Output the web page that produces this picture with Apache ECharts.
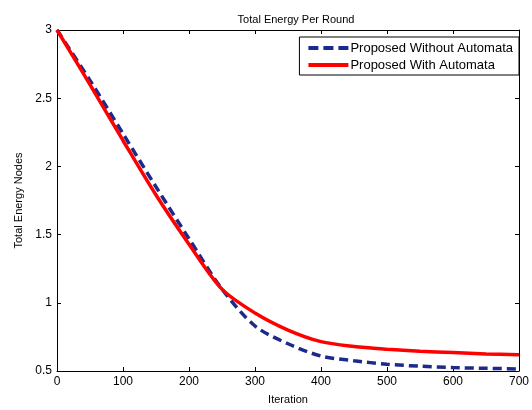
<!DOCTYPE html>
<html>
<head>
<meta charset="utf-8">
<script src="https://cdn.jsdelivr.net/npm/echarts@6/dist/echarts.min.js"></script>
<style>
  html, body { margin: 0; padding: 0; background: #fff; }
  #chart { width: 532px; height: 410px; }
</style>
</head>
<body>
<div id="chart"></div>
<script>
const TITLE = 'Total Energy Per Round'
const X_NAME = 'Iteration'
const Y_NAME = 'Total Energy Nodes'
const WITHOUT_NAME = 'Proposed Without Automata'
const WITH_NAME = 'Proposed With Automata'

const iterations = [0, 50, 100, 150, 200, 250, 300, 350, 400, 450, 500, 550, 600, 650, 700]
const withoutAutomata = [3, 2.63, 2.24, 1.85, 1.47, 1.1, 0.83, 0.7, 0.61, 0.575, 0.55, 0.535, 0.525, 0.52, 0.515]
const withAutomata = [3, 2.6, 2.19, 1.79, 1.43, 1.1, 0.925, 0.8, 0.715, 0.68, 0.66, 0.645, 0.635, 0.625, 0.62]

const FONT = 'Liberation Sans, Arial, sans-serif'
// legend samples: dashed and solid bars, drawn as paths so no symbol shows
const DASH_ICON = 'path://M0,0h10v4h-10z M15,0h10v4h-10z M30,0h10v4h-10z'
const SOLID_ICON = 'path://M0,0h40v4h-40z'

function pairs(values) {
  return iterations.map((x, i) => [x, values[i]])
}

function boxAxis(pos, show) {
  const vertical = pos === 'left' || pos === 'right'
  return {
    type: 'value',
    position: pos,
    min: vertical ? 0.5 : 0,
    max: vertical ? 3 : 700,
    interval: vertical ? 0.5 : 100,
    axisLine: { show: true, onZero: false, lineStyle: { color: '#000', width: 1 } },
    axisTick: { show: true, inside: true, length: 4, lineStyle: { color: '#000' } },
    axisLabel: { show: show, color: '#000', fontSize: 12, fontFamily: FONT, margin: 5 },
    splitLine: { show: false }
  }
}

const chart = echarts.init(document.getElementById('chart'), null, { renderer: 'canvas' })

const xBottom = boxAxis('bottom', true)
xBottom.name = X_NAME
xBottom.nameLocation = 'middle'
xBottom.nameGap = 23
xBottom.nameTextStyle = { color: '#000', fontSize: 11, fontFamily: FONT }

const yLeft = boxAxis('left', true)
yLeft.name = Y_NAME
yLeft.nameLocation = 'middle'
yLeft.nameGap = 31
yLeft.nameTextStyle = { color: '#000', fontSize: 11, fontFamily: FONT }

chart.setOption({
  animation: false,
  backgroundColor: '#fff',
  title: {
    text: TITLE,
    left: 291,
    textAlign: 'center',
    top: 9,
    textStyle: { color: '#000', fontSize: 11, fontWeight: 'normal', fontFamily: FONT }
  },
  legend: {
    orient: 'vertical',
    right: 13,
    top: 37,
    padding: [4, 6, 3, 9],
    itemGap: 3,
    itemWidth: 40,
    itemHeight: 4,
    backgroundColor: '#fff',
    borderColor: '#000',
    borderWidth: 1,
    borderRadius: 0,
    textStyle: { color: '#000', fontSize: 13, fontFamily: FONT, padding: [0, 0, 0, -3], lineHeight: 14 },
    data: [
      { name: WITHOUT_NAME, icon: DASH_ICON, itemStyle: { color: '#1c2a8c' } },
      { name: WITH_NAME, icon: SOLID_ICON, itemStyle: { color: '#ff0000' } }
    ]
  },
  grid: { left: 57, right: 7, top: 30, bottom: 37 },
  xAxis: [xBottom, boxAxis('top', false)],
  yAxis: [yLeft, boxAxis('right', false)],
  series: [
    {
      name: WITHOUT_NAME,
      type: 'line',
      smooth: 0.3,
      showSymbol: false,
      symbol: 'none',
      lineStyle: { color: '#1c2a8c', width: 3.5, type: [9, 5] },
      itemStyle: { color: '#1c2a8c' },
      data: pairs(withoutAutomata)
    },
    {
      name: WITH_NAME,
      type: 'line',
      smooth: 0.3,
      showSymbol: false,
      symbol: 'none',
      lineStyle: { color: '#ff0000', width: 3.5 },
      itemStyle: { color: '#ff0000' },
      data: pairs(withAutomata)
    }
  ]
})
</script>
</body>
</html>
